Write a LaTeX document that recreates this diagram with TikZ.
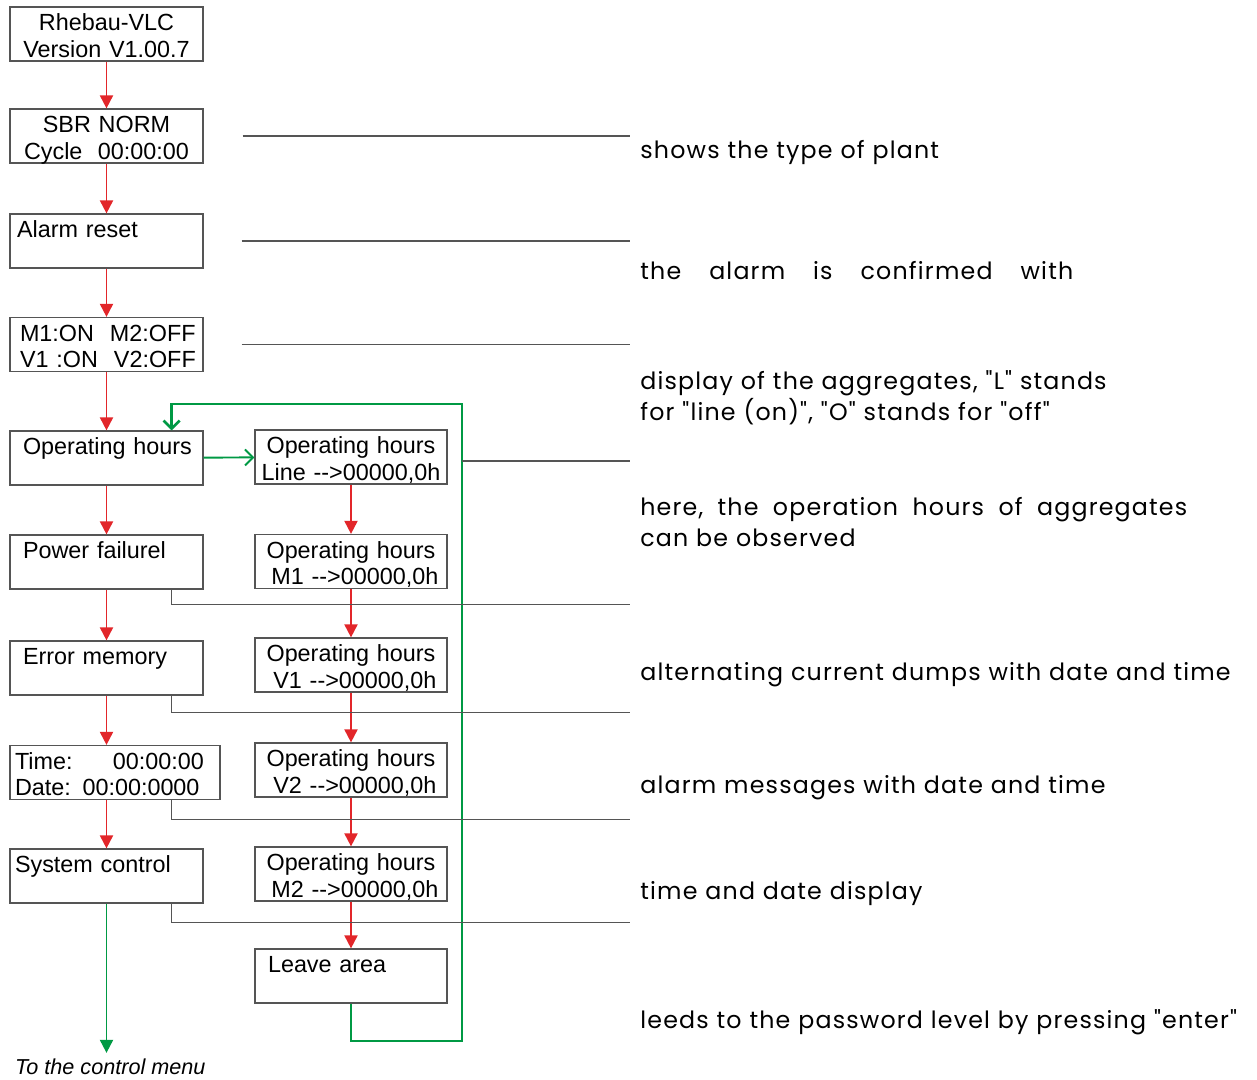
\documentclass[tikz,border=0pt]{standalone}
\usepackage{fontspec}
\setmainfont{Liberation Sans}
\newfontfamily\notefont[LetterSpace=5]{Poppins}
\usetikzlibrary{arrows.meta}
\definecolor{flowred}{RGB}{226,38,42}
\definecolor{flowgreen}{RGB}{0,153,68}
\definecolor{rulegray}{RGB}{85,85,85}

\begin{document}
\begin{tikzpicture}[x=0.02cm,y=-0.02cm,
  box/.style={draw=rulegray,line width=0.7pt,minimum width=3.86cm,minimum height=1.08cm,
    inner sep=0pt,align=center,text width=3.86cm,text height=0.47cm,text depth=0.61cm,
    font=\fontsize{13.3}{15.3}\selectfont},
  meter/.style={box,minimum width=3.84cm,text width=3.84cm},
  pad/.style={align=left,text width=#1},
  next/.style={flowred,line width=1.1pt,-{Triangle[length=2.6mm,width=2.6mm]}},
  jump/.style={draw=flowgreen,line width=1.1pt,-{Straight Barb[length=1.6mm,width=3.2mm]}},
  exit/.style={draw=flowgreen,line width=1.1pt,-{Triangle[length=2.6mm,width=2.6mm]}},
  leader/.style={draw=rulegray,line width=0.7pt},
  note/.style={anchor=base west,inner sep=0pt,align=left,text width=13cm,
    font=\notefont\fontsize{13.5}{18.1}\selectfont}]
  \useasboundingbox (0,0) rectangle (1257,1079);

  \node[box] (title) at (106.5,34) {Rhebau-VLC\\Version V1.00.7};
  \node[box] (sbr) at (106.5,136) {SBR NORM\\Cycle\ \ 00:00:00};
  \node[box,pad=3.58cm] (alarm) at (106.5,241) {Alarm reset};
  \node[box,pad=3.46cm] (aggr) at (106.5,344.5)
    {\makebox[1.8cm][l]{M1:ON}M2:OFF\\\makebox[1.88cm][l]{V1 :ON}V2:OFF};
  \node[box,pad=3.34cm] (hours) at (106.5,458) {\mbox{Operating hours}};
  \node[box,pad=3.34cm] (power) at (106.5,562) {Power failurel};
  \node[box,pad=3.34cm] (errmem) at (106.5,668) {Error memory};
  \node[box,minimum width=4.2cm,pad=4.0cm] (clock) at (115,772.5)
    {\makebox[1.96cm][l]{Time:}00:00:00\\Date: 00:00:0000};
  \node[box,pad=3.66cm] (syst) at (106.5,876) {System control};

  \node[meter] (line) at (351,457) {Operating hours\\Line -{}->00000,0h};
  \node[meter] (m1) at (351,561.5) {Operating hours\\\ M1 -{}->00000,0h};
  \node[meter] (v1) at (351,665) {Operating hours\\\ V1 -{}->00000,0h};
  \node[meter] (v2) at (351,770) {Operating hours\\\ V2 -{}->00000,0h};
  \node[meter] (m2) at (351,874) {Operating hours\\\ M2 -{}->00000,0h};
  \node[meter,pad=3.32cm] (leave) at (351,976) {Leave area};

  \node[anchor=west,font=\itshape\fontsize{12.3}{14}\selectfont] (menu) at (9,1067)
    {To the control menu};

  \path[next] (title) edge (sbr)
              (sbr) edge (alarm)
              (alarm) edge (aggr)
              (aggr) edge (hours)
              (hours) edge (power)
              (power) edge (errmem)
              (errmem.south) edge (errmem.south |- clock.north)
              (errmem.south |- clock.south) edge (syst.north)
              (line) edge (m1)
              (m1) edge (v1)
              (v1) edge (v2)
              (v2) edge (m2)
              (m2) edge (leave);

  \coordinate (loopbot) at (462,1041);
  \coordinate (looptop) at (462,404);
  \coordinate (rim) at (630,0);
  \draw[jump] (hours) -- (line);
  \draw[jump,line width=1.5pt] (leave.south) |- (loopbot) -- (looptop)
    -| ([xshift=-0.64cm]hours.north east);
  \draw[exit] (syst.south) -- (syst.south |- menu.north);

  \draw[leader] ([xshift=0.78cm]sbr.east) -- (sbr.east -| rim);
  \draw[leader] ([xshift=0.76cm]alarm.east) -- (alarm.east -| rim);
  \draw[leader] ([xshift=0.76cm]aggr.east) -- (aggr.east -| rim);
  \draw[leader] ([yshift=-0.08cm]looptop |- line.east) -- ([yshift=-0.08cm]rim |- line.east);
  \draw[leader] ([xshift=-0.64cm]power.south east) |- ([yshift=-0.3cm]power.south -| rim);
  \draw[leader] ([xshift=-0.64cm]errmem.south east) |- ([yshift=-0.34cm]errmem.south -| rim);
  \draw[leader] ([xshift=-0.98cm]clock.south east) |- ([yshift=-0.38cm]clock.south -| rim);
  \draw[leader] ([xshift=-0.64cm]syst.south east) |- ([yshift=-0.38cm]syst.south -| rim);

  \node[note] (plant) at (640,158) {shows the type of plant};
  \node[note] (reset) at (640,279)
    {\makebox[8.66cm][l]{the\hfill alarm\hfill is\hfill confirmed\hfill with}};
  \node[note] (aggtxt) at (640,389)
    {display of the aggregates, "L" stands\\for "line (on)", "O" stands for "off"};
  \node[note] (hourtxt) at (640,515)
    {\makebox[10.94cm][l]{here,\hfill the\hfill operation\hfill hours\hfill of\hfill aggregates}\\
     can be observed};
  \node[note] (dumps) at (640,680) {alternating current dumps with date and time};
  \node[note] (msgs) at (640,793) {alarm messages with date and time};
  \node[note] (datetxt) at (640,899) {time and date display};
  \node[note] (pass) at (640,1028) {leeds to the password level by pressing "enter"};
\end{tikzpicture}
\end{document}
